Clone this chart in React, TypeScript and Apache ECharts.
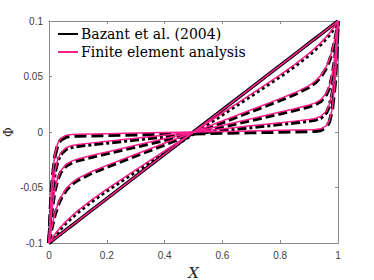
import React, { useEffect, useRef } from "react";
import * as echarts from "echarts";

const xs = [0, 0.005, 0.01, 0.02, 0.03, 0.04, 0.06, 0.08, 0.1, 0.15, 0.2, 0.3, 0.5, 0.7, 0.8, 0.85, 0.9, 0.92, 0.94, 0.96, 0.97, 0.98, 0.99, 0.995, 1];

// Finite element analysis (pink)
const fe1 = [-0.1, -0.099, -0.098, -0.096, -0.094, -0.092, -0.088, -0.084, -0.08, -0.07, -0.06, -0.04, 0, 0.04, 0.06, 0.07, 0.08, 0.084, 0.088, 0.092, 0.094, 0.096, 0.098, 0.099, 0.1];
const fe2 = [-0.1, -0.098, -0.096, -0.0924, -0.089, -0.0859, -0.0803, -0.0754, -0.0708, -0.0607, -0.0515, -0.0341, 0, 0.0341, 0.0515, 0.0607, 0.0708, 0.0754, 0.0803, 0.0859, 0.089, 0.0924, 0.096, 0.098, 0.1];
const fe3 = [-0.1, -0.0918, -0.0848, -0.0737, -0.0654, -0.0592, -0.0508, -0.0455, -0.0418, -0.0353, -0.0301, -0.02, 0, 0.02, 0.0301, 0.0353, 0.0418, 0.0455, 0.0508, 0.0592, 0.0654, 0.0737, 0.0848, 0.0918, 0.1];
const fe4 = [-0.1, -0.0827, -0.0696, -0.0518, -0.0414, -0.0352, -0.0289, -0.026, -0.0243, -0.021, -0.018, -0.012, 0, 0.012, 0.018, 0.021, 0.0243, 0.026, 0.0289, 0.0352, 0.0414, 0.0518, 0.0696, 0.0827, 0.1];
const fe5 = [-0.1, -0.0755, -0.0578, -0.0361, -0.0248, -0.0189, -0.0139, -0.0122, -0.0113, -0.0098, -0.0084, -0.0056, 0, 0.0056, 0.0084, 0.0098, 0.0113, 0.0122, 0.0139, 0.0189, 0.0248, 0.0361, 0.0578, 0.0755, 0.1];
const fe6 = [-0.1, -0.0667, -0.0449, -0.0208, -0.0104, -0.0058, -0.0029, -0.0022, -0.002, -0.0018, -0.0015, -0.001, 0, 0.001, 0.0015, 0.0018, 0.002, 0.0022, 0.0029, 0.0058, 0.0104, 0.0208, 0.0449, 0.0667, 0.1];

// Bazant et al. (2004) (black)
const bz1 = [-0.1, -0.099, -0.098, -0.096, -0.094, -0.092, -0.088, -0.084, -0.08, -0.07, -0.06, -0.04, 0, 0.04, 0.06, 0.07, 0.08, 0.084, 0.088, 0.092, 0.094, 0.096, 0.098, 0.099, 0.1];
const bz2 = [-0.1, -0.0995, -0.0975, -0.0939, -0.0905, -0.0874, -0.0818, -0.0769, -0.0723, -0.0622, -0.053, -0.0356, -0.0015, 0.0326, 0.05, 0.0592, 0.0693, 0.0739, 0.0788, 0.0844, 0.0875, 0.0909, 0.0945, 0.0965, 0.1];
const bz3 = [-0.1, -0.0933, -0.0863, -0.0752, -0.0669, -0.0607, -0.0523, -0.047, -0.0433, -0.0368, -0.0316, -0.0215, -0.0015, 0.0185, 0.0286, 0.0338, 0.0403, 0.044, 0.0493, 0.0577, 0.0639, 0.0722, 0.0833, 0.0903, 0.1];
const bz4 = [-0.1, -0.0842, -0.0711, -0.0533, -0.0429, -0.0367, -0.0304, -0.0275, -0.0258, -0.0225, -0.0195, -0.0135, -0.0015, 0.0105, 0.0165, 0.0195, 0.0228, 0.0245, 0.0274, 0.0337, 0.0399, 0.0503, 0.0681, 0.0812, 0.1];
const bz5 = [-0.1, -0.077, -0.0593, -0.0376, -0.0263, -0.0204, -0.0154, -0.0137, -0.0128, -0.0113, -0.0099, -0.0071, -0.0015, 0.0041, 0.0069, 0.0083, 0.0098, 0.0107, 0.0124, 0.0174, 0.0233, 0.0346, 0.0563, 0.074, 0.1];
const bz6 = [-0.1, -0.0682, -0.0464, -0.0223, -0.0119, -0.0073, -0.0044, -0.0037, -0.0035, -0.0033, -0.003, -0.0025, -0.0015, -0.0005, 0, 0.0003, 0.0005, 0.0007, 0.0014, 0.0043, 0.0089, 0.0193, 0.0434, 0.0652, 0.1];

const xTicks = ["0", "0.2", "0.4", "0.6", "0.8", "1"];
const yTicks = ["-0.1", "-0.05", "0", "0.05", "0.1"];

const BAZ = "Bazant et al. (2004)";
const FEA = "Finite element analysis";
const PINK = "#ff1f8f";

const bzSeries = [bz1, bz2, bz3, bz4, bz5, bz6];
const bzDash: any[] = ["solid", [3, 3], [9, 4], [9, 4], [9, 3, 3, 3], [12, 5]];
const feSeries = [fe1, fe2, fe3, fe4, fe5, fe6];

export default function App() {
  const ref = useRef<HTMLDivElement>(null);
  useEffect(() => {
    if (!ref.current) return;
    const chart = echarts.init(ref.current, null, { renderer: "svg" });
    const toData = (arr: number[]) => xs.map((x, i) => [x, arr[i]]);
    const series: any[] = [];
    bzSeries.forEach((arr, i) => {
      series.push({
        name: BAZ,
        type: "line",
        data: toData(arr),
        symbol: "none",
        showSymbol: false,
        smooth: false,
        lineStyle: { color: "#000", width: 3.5, type: bzDash[i], cap: "butt", join: "round" },
        itemStyle: { color: "#000" },
        z: 2,
      });
    });
    feSeries.forEach((arr) => {
      series.push({
        name: FEA,
        type: "line",
        data: toData(arr),
        symbol: "none",
        showSymbol: false,
        smooth: false,
        lineStyle: { color: PINK, width: 1.5, join: "round" },
        itemStyle: { color: PINK },
        z: 3,
      });
    });
    const axisCommon = {
      type: "value",
      axisLine: { show: true, onZero: false, lineStyle: { color: "#8a8a8a", width: 1 } },
      axisTick: { show: true, inside: true, length: 3, lineStyle: { color: "#8a8a8a" } },
      splitLine: { show: false },
    };
    chart.setOption({
      animation: false,
      backgroundColor: "#fff",
      grid: { left: 49, right: 36, top: 21, bottom: 37, containLabel: false, outerBoundsMode: "none" },
      legend: {
        data: [
          { name: BAZ, icon: "rect", itemStyle: { color: "#000" } },
          { name: FEA, icon: "rect", itemStyle: { color: PINK } },
        ],
        orient: "vertical",
        left: 58,
        top: 27,
        padding: 0,
        itemWidth: 20,
        itemHeight: 2,
        itemGap: 4,
        textStyle: { fontFamily: "DejaVu Serif", fontSize: 14, color: "#000", padding: [0, 0, 0, -2] },
      },
      xAxis: [
        {
          ...axisCommon,
          position: "bottom",
          min: 0,
          max: 1,
          interval: 0.2,
          name: "X",
          nameLocation: "middle",
          nameGap: 22,
          nameMoveOverlap: false,
          nameTextStyle: { fontFamily: "DejaVu Serif", fontStyle: "italic", fontSize: 15, color: "#222" },
          axisLabel: {
            margin: 7,
            fontFamily: "Liberation Sans",
            fontSize: 10,
            color: "#404040",
            formatter: (v: number) => xTicks[Math.round(v / 0.2)] ?? "",
          },
        },
        {
          ...axisCommon,
          position: "top",
          min: 0,
          max: 1,
          interval: 0.2,
          axisLabel: { show: false },
        },
      ],
      yAxis: [
        {
          ...axisCommon,
          position: "left",
          min: -0.1,
          max: 0.1,
          interval: 0.05,
          name: "Φ",
          nameLocation: "middle",
          nameGap: 34,
          nameRotate: 90,
          nameMoveOverlap: false,
          nameTextStyle: { fontFamily: "DejaVu Serif", fontSize: 12, color: "#222" },
          axisLabel: {
            margin: 6,
            fontFamily: "Liberation Sans",
            fontSize: 10,
            color: "#404040",
            formatter: (v: number) => yTicks[Math.round((v + 0.1) / 0.05)] ?? "",
          },
        },
        {
          ...axisCommon,
          position: "right",
          min: -0.1,
          max: 0.1,
          interval: 0.05,
          axisLabel: { show: false },
        },
      ],
      series,
    });
    return () => chart.dispose();
  }, []);
  return (
    <div
      ref={ref}
      style={{ position: "fixed", left: 0, top: 0, width: 374, height: 280, background: "#fff" }}
    />
  );
}
